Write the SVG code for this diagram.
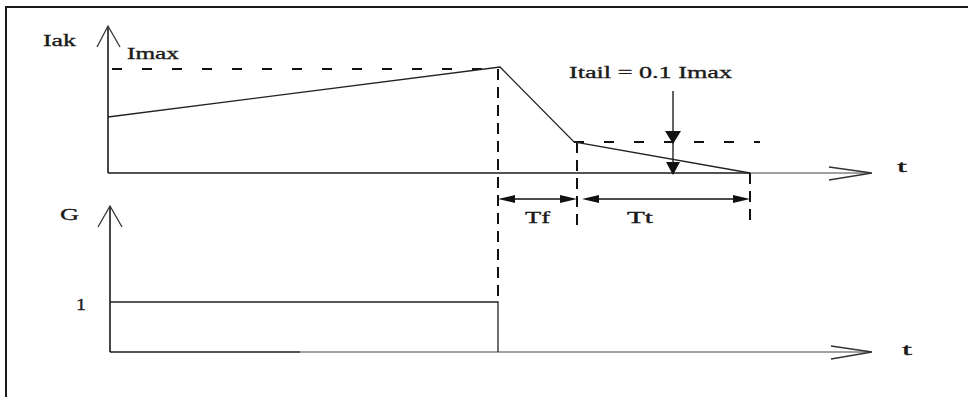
<svg xmlns="http://www.w3.org/2000/svg" width="968" height="397" viewBox="0 0 968 397">
<style>
.bg{fill:#ffffff}
.frame{fill:none;stroke:#1a1a1a;stroke-width:2}
.ax{fill:none;stroke:#1a1a1a;stroke-width:1.6}
.axl{fill:none;stroke:#444;stroke-width:1.2}
.sig{fill:none;stroke:#222;stroke-width:1.3}
.dh{fill:none;stroke:#111;stroke-width:2;stroke-dasharray:10 20}
.dv{fill:none;stroke:#111;stroke-width:2;stroke-dasharray:11 7}
.open{fill:none;stroke:#333;stroke-width:1.3}
.dim{fill:none;stroke:#111;stroke-width:1.3}
.ah{fill:#111;stroke:none}
text{font-family:"Liberation Serif","Times New Roman",serif;font-size:17px;fill:#1a1a1a;stroke:#1a1a1a;stroke-width:0.35}
</style>
<rect class="bg" x="0" y="0" width="968" height="397"/>
<path class="frame" d="M6,400 L6,7 L970,7"/>

<g id="connectors">
  <line class="ax" x1="108" y1="173" x2="108" y2="27"/>
  <polyline class="open" points="97,47 108,26 120,47"/>
  <line class="ax" x1="108" y1="173" x2="750" y2="173"/>
  <line class="axl" x1="750" y1="173" x2="871" y2="173"/>
  <polyline class="open" points="829,167 872,173 829,180"/>
  <line class="ax" x1="110" y1="352" x2="110" y2="207"/>
  <polyline class="open" points="98,227 110,206 122,227"/>
  <line class="ax" x1="110" y1="352" x2="300" y2="352"/>
  <line class="axl" x1="300" y1="352" x2="871" y2="352"/>
  <polyline class="open" points="831,346 872,352 831,359"/>
  <line class="dh" x1="112" y1="69" x2="500" y2="69"/>
  <line class="dh" x1="574" y1="142" x2="760" y2="142"/>
  <line class="dv" x1="498" y1="69" x2="498" y2="302"/>
  <line class="dv" x1="577" y1="142" x2="577" y2="226"/>
  <line class="dv" x1="750" y1="173" x2="750" y2="221"/>
  <line class="dim" x1="673" y1="91" x2="673" y2="165"/>
  <polygon class="ah" points="665,131 681,131 673,144"/>
  <polygon class="ah" points="666,162 680,162 673,175"/>
  <line class="dim" x1="505" y1="199" x2="570" y2="199"/>
  <polygon class="ah" points="498,199 515,195 515,203"/>
  <polygon class="ah" points="577,199 560,195 560,203"/>
  <line class="dim" x1="590" y1="199" x2="743" y2="199"/>
  <polygon class="ah" points="582,199 599,195 599,203"/>
  <polygon class="ah" points="750,199 733,195 733,203"/>
</g>

<g id="iak-signal">
  <polyline class="sig" points="108,117 500,67 574,142 750,173"/>
</g>
<g id="g-signal">
  <polyline class="sig" points="110,302 498,302 498,352"/>
</g>

<g id="labels">
  <text x="43" y="46" textLength="33" lengthAdjust="spacingAndGlyphs">Iak</text>
  <text x="127" y="59" textLength="52" lengthAdjust="spacingAndGlyphs">Imax</text>
  <text x="569" y="78" textLength="163" lengthAdjust="spacingAndGlyphs">Itail = 0.1 Imax</text>
  <text x="897" y="172" textLength="10" lengthAdjust="spacingAndGlyphs">t</text>
  <text x="525" y="223" textLength="25" lengthAdjust="spacingAndGlyphs">Tf</text>
  <text x="627" y="223" textLength="26" lengthAdjust="spacingAndGlyphs">Tt</text>
  <text x="60" y="220" textLength="19" lengthAdjust="spacingAndGlyphs">G</text>
  <text x="76" y="310" textLength="10" lengthAdjust="spacingAndGlyphs">1</text>
  <text x="902" y="355" textLength="10" lengthAdjust="spacingAndGlyphs">t</text>
</g>
</svg>
